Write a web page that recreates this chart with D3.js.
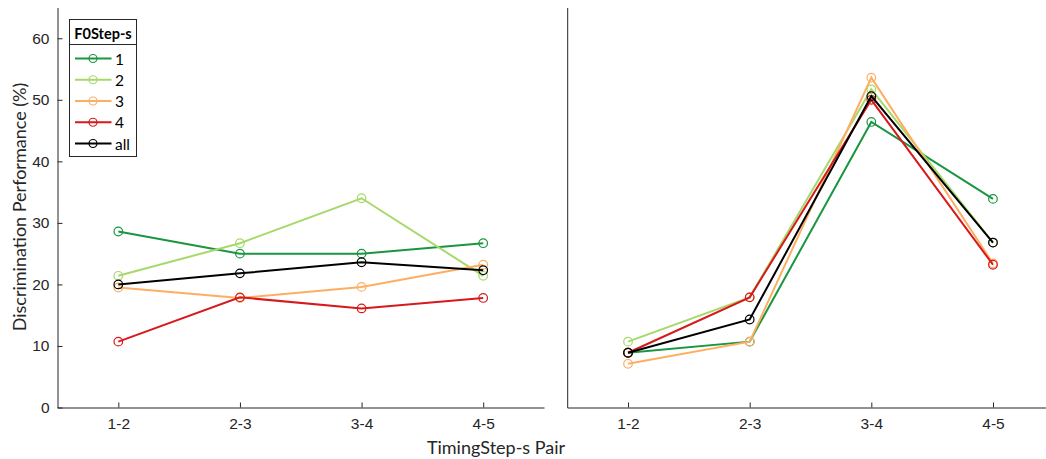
<!DOCTYPE html>
<html>
<head>
<meta charset="utf-8">
<script src="https://cdn.jsdelivr.net/npm/d3@7"></script>
<style>
  body { margin: 0; background: #fff; }
  svg { display: block; font-family: Lato, "Open Sans", sans-serif; }
</style>
</head>
<body>
<svg id="chart" width="1046" height="459"></svg>
<script>
// カテゴリ（横軸）
const pairs = ['1-2', '2-3', '3-4', '4-5'];
// 縦軸の目盛
const yTicks = [0, 10, 20, 30, 40, 50, 60];
// 系列名
const steps = ['1', '2', '3', '4', 'all'];
// 系列の色
const stepColors = ['#1a9641', '#a6d96a', '#fdae61', '#d7191c', '#000000'];

// 左パネルの値 (%)
const left1   = [28.6, 25.0, 25.0, 26.7];
const left2   = [21.4, 26.7, 34.0, 21.4];
const left3   = [19.5, 17.8, 19.6, 23.2];
const left4   = [10.7, 17.9, 16.1, 17.8];
const leftAll = [20.0, 21.8, 23.6, 22.3];

// 右パネルの値 (%)
const right1   = [8.9, 10.7, 46.4, 33.9];
const right2   = [10.7, 17.9, 51.7, 26.8];
const right3   = [7.1, 10.7, 53.6, 23.4];
const right4   = [8.9, 17.9, 50.0, 23.2];
const rightAll = [8.9, 14.3, 50.6, 26.8];

const leftSeries = [left1, left2, left3, left4, leftAll];
const rightSeries = [right1, right2, right3, right4, rightAll];

// - - - - 設定 - - - -
const AxisColor = '#262626';
const TickFont = '15.5px';
const TitleFont = '18px';
const Top = 7.5, Bottom = 407.5;
const svg = d3.select('#chart');

const y = d3.scaleLinear().domain([0, 65]).range([Bottom, Top]);

function drawPanel(x0, x1, series, showY) {
    const x = d3.scaleLinear().domain([0.5, 4.5]).range([x0, x1]);
    const g = svg.append('g');

    // 横軸
    const xAxis = d3.axisBottom(x)
        .tickValues([1, 2, 3, 4])
        .tickFormat(d => pairs[d - 1])
        .tickSizeInner(-5).tickSizeOuter(0).tickPadding(10);
    const gx = g.append('g').attr('transform', `translate(0,${Bottom})`).call(xAxis);
    gx.select('.domain').attr('stroke', AxisColor);
    gx.selectAll('.tick line').attr('stroke', AxisColor);
    gx.selectAll('.tick text').attr('fill', AxisColor).style('font-size', TickFont);

    // 縦軸
    const yAxis = d3.axisLeft(y)
        .tickValues(showY ? yTicks : [])
        .tickSizeInner(-5).tickSizeOuter(0).tickPadding(8);
    const gy = g.append('g').attr('transform', `translate(${x0},0)`).call(yAxis);
    gy.select('.domain').attr('stroke', AxisColor);
    gy.selectAll('.tick line').attr('stroke', AxisColor);
    gy.selectAll('.tick text').attr('fill', AxisColor).style('font-size', TickFont);

    const line = d3.line().x((d, i) => x(i + 1)).y(d => y(d));
    series.forEach((vals, k) => {
        g.append('path')
            .attr('d', line(vals))
            .attr('fill', 'none')
            .attr('stroke', stepColors[k])
            .attr('stroke-width', 2);
        g.selectAll(null).data(vals).enter().append('circle')
            .attr('cx', (d, i) => x(i + 1))
            .attr('cy', d => y(d))
            .attr('r', 4.3)
            .attr('fill', 'none')
            .attr('stroke', stepColors[k])
            .attr('stroke-width', 1.2);
    });
}

drawPanel(57.5, 544, leftSeries, true);
drawPanel(567.2, 1053.8, rightSeries, false);

// 軸タイトル
svg.append('text')
    .attr('transform', 'translate(19,207) rotate(-90)')
    .attr('text-anchor', 'middle')
    .attr('dominant-baseline', 'central')
    .attr('fill', AxisColor)
    .style('font-size', TitleFont)
    .text('Discrimination Performance (%)');
svg.append('text')
    .attr('x', 496).attr('y', 447)
    .attr('text-anchor', 'middle')
    .attr('dominant-baseline', 'central')
    .attr('fill', AxisColor)
    .style('font-size', TitleFont)
    .text('TimingStep-s Pair');

// 凡例
const lg = svg.append('g');
lg.append('rect')
    .attr('x', 69.5).attr('y', 19.5).attr('width', 67).attr('height', 137)
    .attr('fill', '#fff').attr('stroke', AxisColor).attr('stroke-width', 1);
lg.append('line')
    .attr('x1', 69.5).attr('x2', 136.5).attr('y1', 44.5).attr('y2', 44.5)
    .attr('stroke', AxisColor);
lg.append('text')
    .attr('x', 103).attr('y', 33)
    .attr('text-anchor', 'middle').attr('dominant-baseline', 'central')
    .attr('fill', '#000').style('font-size', '14.5px').style('font-weight', 'bold')
    .text('F0Step-s');
const itemY = d3.scalePoint().domain(steps).range([58.5, 143.5]);
steps.forEach((s, k) => {
    const yy = itemY(s);
    lg.append('line')
        .attr('x1', 75).attr('x2', 111.5).attr('y1', yy).attr('y2', yy)
        .attr('stroke', stepColors[k]).attr('stroke-width', 2);
    lg.append('circle')
        .attr('cx', 93).attr('cy', yy).attr('r', 4)
        .attr('fill', 'none').attr('stroke', stepColors[k]).attr('stroke-width', 1.2);
    lg.append('text')
        .attr('x', 115).attr('y', yy)
        .attr('dominant-baseline', 'central')
        .attr('fill', '#000').style('font-size', '15.5px')
        .text(s);
});
</script>
</body>
</html>
